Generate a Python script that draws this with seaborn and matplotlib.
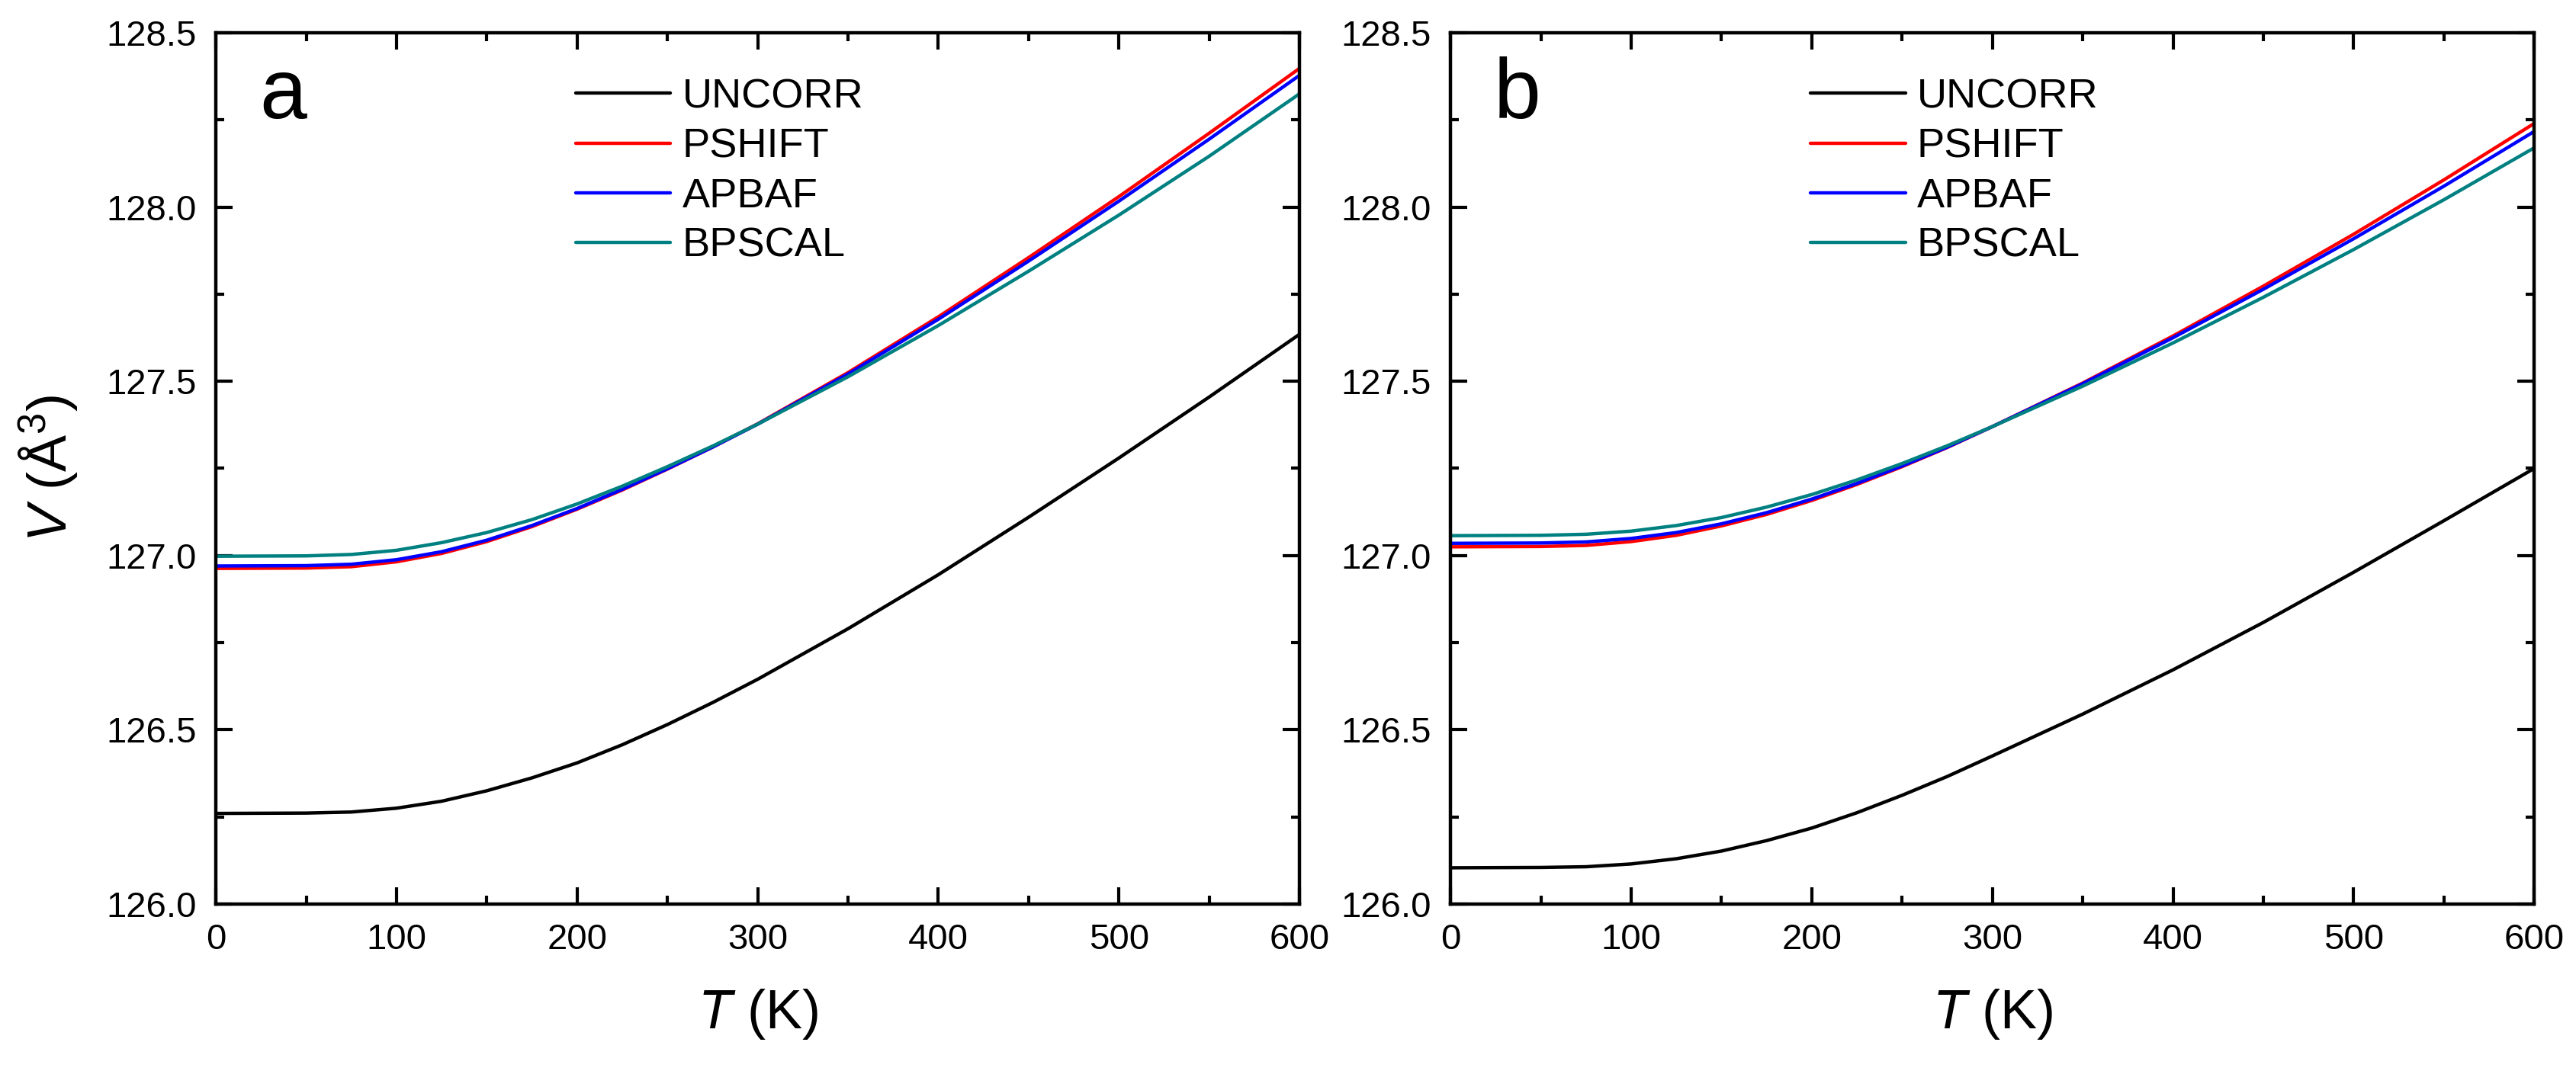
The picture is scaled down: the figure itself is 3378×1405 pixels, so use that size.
import numpy as np
import pandas as pd
import matplotlib
matplotlib.use('Agg')
import matplotlib.pyplot as plt
import seaborn as sns
from matplotlib.ticker import MultipleLocator, FormatStrFormatter

# ── Data ──────────────────────────────────────────────────────────────────────
T = [0, 50, 75, 100, 125, 150, 175, 200, 225, 250, 275, 300, 350, 400, 450, 500, 550, 600]

methods = ['UNCORR', 'PSHIFT', 'APBAF', 'BPSCAL']
colors  = ['#000000', '#FF0000', '#0000FF', '#008080']

# panel a
a_uncorr = [126.260, 126.261, 126.264, 126.275, 126.295, 126.325, 126.362, 126.405,
            126.457, 126.515, 126.578, 126.645, 126.790, 126.945, 127.110, 127.280,
            127.455, 127.635]
a_pshift = [126.963, 126.964, 126.968, 126.982, 127.006, 127.040, 127.083, 127.133,
            127.188, 127.248, 127.311, 127.378, 127.525, 127.685, 127.855, 128.030,
            128.212, 128.398]
a_apbaf  = [126.970, 126.971, 126.975, 126.988, 127.011, 127.044, 127.086, 127.135,
            127.190, 127.249, 127.311, 127.377, 127.521, 127.678, 127.845, 128.017,
            128.195, 128.378]
a_bpscal = [126.998, 126.999, 127.003, 127.015, 127.037, 127.066, 127.103, 127.148,
            127.199, 127.255, 127.314, 127.377, 127.513, 127.660, 127.816, 127.977,
            128.146, 128.325]

# panel b
b_uncorr = [126.104, 126.105, 126.107, 126.115, 126.130, 126.152, 126.182, 126.218,
            126.262, 126.312, 126.366, 126.425, 126.545, 126.672, 126.808, 126.952,
            127.100, 127.250]
b_pshift = [127.025, 127.026, 127.029, 127.040, 127.058, 127.085, 127.118, 127.158,
            127.204, 127.255, 127.310, 127.370, 127.495, 127.630, 127.773, 127.922,
            128.078, 128.240]
b_apbaf  = [127.035, 127.036, 127.039, 127.049, 127.066, 127.091, 127.123, 127.162,
            127.207, 127.257, 127.311, 127.370, 127.493, 127.625, 127.764, 127.909,
            128.060, 128.217]
b_bpscal = [127.057, 127.058, 127.061, 127.070, 127.086, 127.109, 127.139, 127.175,
            127.217, 127.264, 127.315, 127.370, 127.486, 127.610, 127.741, 127.878,
            128.021, 128.170]

panel_letters = ['a', 'b']


def long_df(series):
    rows = []
    for name, vals in zip(methods, series):
        for t, v in zip(T, vals):
            rows.append({'T': t, 'V': v, 'method': name})
    return pd.DataFrame(rows)


panels = [
    long_df([a_uncorr, a_pshift, a_apbaf, a_bpscal]),
    long_df([b_uncorr, b_pshift, b_apbaf, b_bpscal]),
]

# ── Style ─────────────────────────────────────────────────────────────────────
sns.set_style('ticks')
plt.rcParams['font.family'] = ['Liberation Sans', 'DejaVu Sans']
plt.rcParams['mathtext.fontset'] = 'custom'
plt.rcParams['mathtext.rm'] = 'Liberation Sans'
plt.rcParams['mathtext.it'] = 'Liberation Sans:italic'
for key in ['text.color', 'axes.labelcolor', 'xtick.color', 'ytick.color',
            'axes.edgecolor']:
    plt.rcParams[key] = 'black'

fig = plt.figure(figsize=(33.78, 14.05), dpi=100)
lefts = [0.0838, 0.5631]

for i, df in enumerate(panels):
    ax = fig.add_axes([lefts[i], 0.1559, 0.4207, 0.8135])
    sns.lineplot(
        data=df, x='T', y='V', hue='method', hue_order=methods,
        palette=colors, linewidth=3.2, ax=ax, legend=True
    )

    ax.set_xlim(0, 600)
    ax.set_ylim(126.0, 128.5)
    ax.xaxis.set_major_locator(MultipleLocator(100))
    ax.xaxis.set_minor_locator(MultipleLocator(50))
    ax.yaxis.set_major_locator(MultipleLocator(0.5))
    ax.yaxis.set_minor_locator(MultipleLocator(0.25))
    ax.yaxis.set_major_formatter(FormatStrFormatter('%.1f'))

    ax.tick_params(which='both', direction='in', top=True, right=True,
                   width=3, color='black', labelcolor='black')
    ax.tick_params(which='major', length=16, labelsize=34, pad=18)
    ax.tick_params(which='minor', length=8)
    for sp in ax.spines.values():
        sp.set_linewidth(3.2)
        sp.set_color('black')

    ax.set_xlabel('$T$ (K)', fontsize=52, color='black')
    ax.xaxis.set_label_coords(0.5, -0.095)
    if i == 0:
        ax.set_ylabel('$V$ (Å$^3$)', fontsize=52, color='black')
        ax.yaxis.set_label_coords(-0.125, 0.5)
    else:
        ax.set_ylabel('')

    ax.text(0.04, 0.902, panel_letters[i], transform=ax.transAxes,
            fontsize=80, ha='left', va='baseline', color='black')

    handles, labels = ax.get_legend_handles_labels()
    for h in handles:
        h.set_linewidth(3.2)
    leg = ax.legend(handles, labels, loc='upper left', bbox_to_anchor=(0.332, 0.948),
                    frameon=False, fontsize=39, handlelength=2.3, handletextpad=0.28,
                    labelspacing=0.28, borderpad=0, borderaxespad=0)
    for txt in leg.get_texts():
        txt.set_color('black')

fig.savefig('out.png', dpi=100)
